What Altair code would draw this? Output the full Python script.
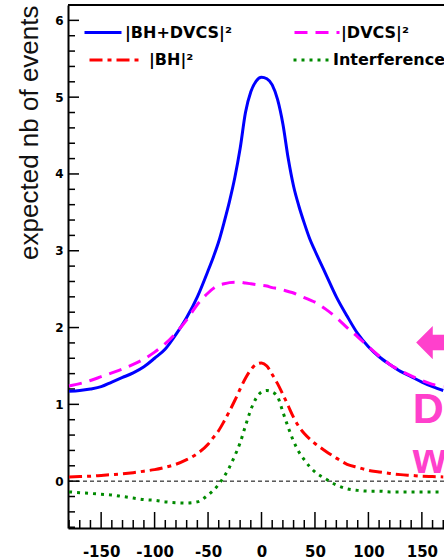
import altair as alt
import pandas as pd

# ---------------- data ----------------
angle = [-180, -170, -160, -150, -140, -130, -120, -110, -100, -90, -80, -70, -60, -50,
         -45, -40, -35, -30, -25, -20, -15, -10, -5, 0, 5, 10, 15, 20, 25, 30, 35, 40, 45,
         50, 60, 70, 80, 90, 100, 110, 120, 130, 140, 150, 160, 170]

bh_dvcs = [1.17, 1.18, 1.20, 1.23, 1.29, 1.35, 1.41, 1.49, 1.60, 1.72, 1.91, 2.13, 2.40, 2.74,
           2.92, 3.12, 3.37, 3.64, 3.95, 4.33, 4.80, 5.07, 5.21, 5.26, 5.24, 5.16, 4.97, 4.65,
           4.20, 3.84, 3.58, 3.36, 3.16,
           3.00, 2.70, 2.40, 2.15, 1.92, 1.75, 1.62, 1.52, 1.43, 1.36, 1.29, 1.23, 1.18]

dvcs = [1.24, 1.27, 1.31, 1.36, 1.41, 1.46, 1.52, 1.59, 1.68, 1.79, 1.93, 2.10, 2.30, 2.45,
        2.51, 2.55, 2.57, 2.585, 2.59, 2.59, 2.58, 2.57, 2.56, 2.55, 2.54, 2.52, 2.51, 2.49,
        2.47, 2.45, 2.42, 2.39, 2.36,
        2.33, 2.24, 2.13, 2.00, 1.88, 1.75, 1.63, 1.52, 1.44, 1.37, 1.31, 1.26, 1.23]

bh = [0.055, 0.06, 0.065, 0.075, 0.085, 0.095, 0.11, 0.13, 0.15, 0.18, 0.22, 0.28, 0.36, 0.48,
      0.57, 0.66, 0.78, 0.91, 1.05, 1.20, 1.34, 1.45, 1.52, 1.54, 1.50, 1.39, 1.27, 1.13,
      0.98, 0.83, 0.71, 0.62, 0.55,
      0.49, 0.39, 0.30, 0.22, 0.18, 0.14, 0.12, 0.10, 0.085, 0.075, 0.065, 0.06, 0.055]

interference = [-0.14, -0.15, -0.16, -0.17, -0.18, -0.20, -0.22, -0.24, -0.25, -0.27, -0.28, -0.285, -0.27, -0.18,
                -0.12, -0.04, 0.06, 0.18, 0.33, 0.50, 0.72, 0.93, 1.08, 1.16, 1.18, 1.16, 1.10, 0.90,
                0.70, 0.52, 0.38, 0.28, 0.19,
                0.12, 0.03, -0.05, -0.10, -0.12, -0.13, -0.13, -0.14, -0.14, -0.14, -0.14, -0.14, -0.14]

series_names = ["|BH+DVCS|\u00b2", "|DVCS|\u00b2", "|BH|\u00b2", "Interference"]
series_colors = ["#0000ff", "#ff00ff", "#ff0000", "#008a00"]

y_major = [0, 1, 2, 3, 4, 5, 6]
y_minor = [round(k / 5, 1) for k in range(-3, 32) if k % 5 != 0]
x_major = [-150, -100, -50, 0, 50, 100, 150]
x_minor = [v for v in range(-180, 171, 10) if v % 50 != 0]

# ---------------- layout / style ----------------
W, H = 376, 523
xscale = alt.Scale(domain=[-181, 170.7], nice=False, zero=False)
yscale = alt.Scale(domain=[-0.61, 6.2], nice=False, zero=False)

xaxis = alt.Axis(values=x_major, title=None, ticks=False, tickSize=0, grid=False,
                 domain=True, domainColor="black", domainWidth=2,
                 labelExpr="datum.value + ''",
                 labelFont="DejaVu Sans", labelFontWeight="bold", labelFontSize=15,
                 labelColor="black", labelPadding=16, labelBaseline="top")
yaxis = alt.Axis(values=y_major, format="d", title="expected nb of events",
                 titleFont="Liberation Sans", titleFontSize=26, titleFontWeight="normal",
                 titleColor="#111111", titleAngle=270, titleAlign="right",
                 titleBaseline="alphabetic", titleX=-31, titleY=0,
                 ticks=False, tickSize=0, grid=False,
                 domain=True, domainColor="black", domainWidth=2,
                 labelFont="DejaVu Sans", labelFontWeight="bold", labelFontSize=12,
                 labelColor="black", labelPadding=5)

X = lambda f: alt.X(f, scale=xscale, axis=xaxis)
Y = lambda f: alt.Y(f, scale=yscale, axis=yaxis)


def curve(vals, idx, dash, lx, ly, sym_w, lab_off):
    name, color = series_names[idx], series_colors[idx]
    df = pd.DataFrame({"angle": angle, "value": vals, "series": name})
    mk = dict(strokeWidth=3, interpolate="monotone", clip=True)
    lg = dict(orient="none", legendX=lx, legendY=ly, title=None, padding=0,
              symbolType="stroke", symbolSize=sym_w * sym_w, symbolStrokeWidth=3,
              labelOffset=lab_off, labelFont="DejaVu Sans", labelFontWeight="bold",
              labelFontSize=16, labelColor="black")
    if dash:
        mk["strokeDash"] = dash
        lg["symbolDash"] = dash
    return alt.Chart(df).mark_line(**mk).encode(
        x=X("angle:Q"), y=Y("value:Q"),
        color=alt.Color("series:N", scale=alt.Scale(domain=[name], range=[color]),
                        legend=alt.Legend(**lg)),
    )


zero_line = alt.Chart(pd.DataFrame({"value": [0]})).mark_rule(
    color="black", strokeWidth=1, strokeDash=[4, 3]).encode(y=Y("value:Q"))
top_frame = alt.Chart(pd.DataFrame({"value": [6.2]})).mark_rule(
    color="black", strokeWidth=2).encode(y=Y("value:Q"))

ytm = alt.Chart(pd.DataFrame({"value": y_major})).mark_rule(color="black", strokeWidth=1.5).encode(
    y=Y("value:Q"), x=alt.value(0), x2=alt.value(11))
ytn = alt.Chart(pd.DataFrame({"value": y_minor})).mark_rule(color="black", strokeWidth=1.5).encode(
    y=Y("value:Q"), x=alt.value(0), x2=alt.value(7))
xtm = alt.Chart(pd.DataFrame({"angle": x_major})).mark_rule(color="black", strokeWidth=1.5).encode(
    x=X("angle:Q"), y=alt.value(H), y2=alt.value(H - 16))
xtn = alt.Chart(pd.DataFrame({"angle": x_minor})).mark_rule(color="black", strokeWidth=1.5).encode(
    x=X("angle:Q"), y=alt.value(H), y2=alt.value(H - 8))

c_blue = curve(bh_dvcs, 0, None, 15, 7.5, 37, 2)
c_mag = curve(dvcs, 1, [13, 8], 225, 3.5, 45, 0)
c_red = curve(bh, 2, [13, 5, 4, 5], 20, 29, 49, 9)
c_grn = curve(interference, 3, [3, 5], 224, 34.5, 38, 0)

pink = "#ff40cc"
arrow = alt.Chart(pd.DataFrame({"a": [0]})).mark_text(
    text="\u2b05", font="DejaVu Sans", fontWeight="bold", fontSize=62, color=pink, align="left",
    baseline="middle", clip=True).encode(x=alt.datum(143), y=alt.datum(1.80))
word1 = alt.Chart(pd.DataFrame({"a": [0]})).mark_text(
    text="DVCS", font="Liberation Sans", fontWeight="bold", fontSize=43, color=pink,
    align="left", baseline="alphabetic", clip=True).encode(x=alt.datum(141.5), y=alt.datum(0.76))
word2 = alt.Chart(pd.DataFrame({"a": [0]})).mark_text(
    text="with", font="Liberation Sans", fontWeight="bold", fontSize=43, color=pink,
    align="left", baseline="alphabetic", clip=True).encode(x=alt.datum(141.5), y=alt.datum(0.10))

chart = alt.layer(
    zero_line, ytn, ytm, xtn, xtm, top_frame,
    c_blue, c_mag, c_red, c_grn,
    arrow, word1, word2,
).resolve_scale(color="independent").properties(
    width=W, height=H,
    autosize=alt.AutoSizeParams(type="none"),
    padding={"left": 68, "top": 5, "right": 0, "bottom": 32},
    background="white",
).configure_view(stroke=None)

chart.save("out.html", embed_options={"renderer": "svg", "actions": False})
